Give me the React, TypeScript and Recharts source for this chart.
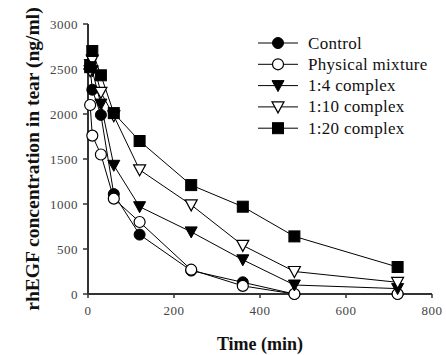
import React from "react";
import { LineChart, Line, XAxis, YAxis, Legend, Label } from "recharts";

const times = [5, 10, 30, 60, 120, 240, 360, 480, 720];
const control = [2510, 2270, 1990, 1110, 660, 260, 130, 0, 0];
const physical = [2100, 1760, 1550, 1060, 800, 270, 90, 0, 0];
const c14 = [2550, 2480, 2110, 1430, 970, 690, 380, 100, 60];
const c110 = [2480, 2600, 2240, 1980, 1380, 990, 540, 250, 130];
const c120 = [2520, 2700, 2430, 2010, 1700, 1210, 970, 640, 300];
const xTicks = [0, 200, 400, 600, 800];
const yTicks = [0, 500, 1000, 1500, 2000, 2500, 3000];

const seriesNames = ["Control", "Physical mixture", "1:4 complex", "1:10 complex", "1:20 complex"];
const seriesKeys = ["control", "physical", "c14", "c110", "c120"];
const seriesShapes = ["circleFilled", "circleOpen", "triFilled", "triOpen", "square"];

const data = times.map((t, i) => ({
  t,
  control: control[i],
  physical: physical[i],
  c14: c14[i],
  c110: c110[i],
  c120: c120[i],
}));

const FONT = "'Liberation Serif', 'DejaVu Serif', serif";

function Marker({ shape, cx, cy }: { shape: string; cx: number; cy: number }) {
  const s = "#000";
  if (shape === "circleFilled") return <circle cx={cx} cy={cy} r={5.5} fill="#000" stroke={s} strokeWidth={1} />;
  if (shape === "circleOpen") return <circle cx={cx} cy={cy} r={5.5} fill="#fff" stroke={s} strokeWidth={1.2} />;
  if (shape === "triFilled")
    return <polygon points={`${cx - 6},${cy - 5} ${cx + 6},${cy - 5} ${cx},${cy + 6}`} fill="#000" stroke={s} strokeWidth={1} />;
  if (shape === "triOpen")
    return <polygon points={`${cx - 6},${cy - 5} ${cx + 6},${cy - 5} ${cx},${cy + 6}`} fill="#fff" stroke={s} strokeWidth={1.2} />;
  return <rect x={cx - 5.5} y={cy - 5.5} width={11} height={11} fill="#000" stroke={s} strokeWidth={1} />;
}

const makeDot = (shape: string) => (props: any) => {
  const { cx, cy, index } = props;
  return <Marker key={`${shape}-${index}`} shape={shape} cx={cx} cy={cy} />;
};

function LegendContent() {
  const rowH = 21.3;
  return (
    <svg width={190} height={112} style={{ display: "block" }}>
      {seriesNames.map((n, i) => {
        const y = 11 + i * rowH;
        return (
          <g key={n}>
            <line x1={2} y1={y} x2={42} y2={y} stroke="#000" strokeWidth={1} />
            <Marker shape={seriesShapes[i]} cx={22} cy={y} />
            <text x={52} y={y + 5.5} fontFamily={FONT} fontSize={17} fill="#111" letterSpacing={0.3}>
              {n}
            </text>
          </g>
        );
      })}
    </svg>
  );
}

export default function App() {
  return (
    <div style={{ position: "absolute", left: 0, top: 0, width: 446, height: 355, background: "#fff" }}>
      <LineChart width={446} height={355} data={data} margin={{ top: 24, right: 14, bottom: 0, left: 0 }}>
        <XAxis
          dataKey="t"
          type="number"
          domain={[0, 800]}
          ticks={xTicks}
          height={61}
          tickSize={4}
          axisLine={{ stroke: "#333", strokeWidth: 2 }}
          tickLine={{ stroke: "#333", strokeWidth: 1.5 }}
          tick={{ fontFamily: FONT, fontSize: 13, fill: "#444", letterSpacing: 0.5 }}
          tickMargin={8}
        >
          <Label value="Time (min)" position="insideBottom" offset={5} style={{ fontFamily: FONT, fontSize: 18, fontWeight: "bold", fill: "#111" }} />
        </XAxis>
        <YAxis
          type="number"
          domain={[0, 3000]}
          ticks={yTicks}
          width={88}
          tickSize={5}
          axisLine={{ stroke: "#333", strokeWidth: 2 }}
          tickLine={{ stroke: "#333", strokeWidth: 1.5 }}
          tick={{ fontFamily: FONT, fontSize: 13, fill: "#444", letterSpacing: 0.5 }}
          tickMargin={5}
        >
          <Label
            value="rhEGF concentration in tear (ng/ml)"
            angle={-90}
            position="insideLeft"
            offset={32}
            style={{ textAnchor: "middle", fontFamily: FONT, fontSize: 19.5, fontWeight: "bold", fill: "#111" }}
          />
        </YAxis>
        <Legend
          layout="vertical"
          align="center"
          verticalAlign="middle"
          content={() => <LegendContent />}
          wrapperStyle={{ position: "absolute", left: 256, top: 32, width: 190, height: 112 }}
        />
        {seriesKeys.map((k, i) => (
          <Line
            key={k}
            dataKey={k}
            name={seriesNames[i]}
            stroke="#000"
            strokeWidth={1}
            dot={makeDot(seriesShapes[i])}
            isAnimationActive={false}
          />
        ))}
      </LineChart>
    </div>
  );
}
